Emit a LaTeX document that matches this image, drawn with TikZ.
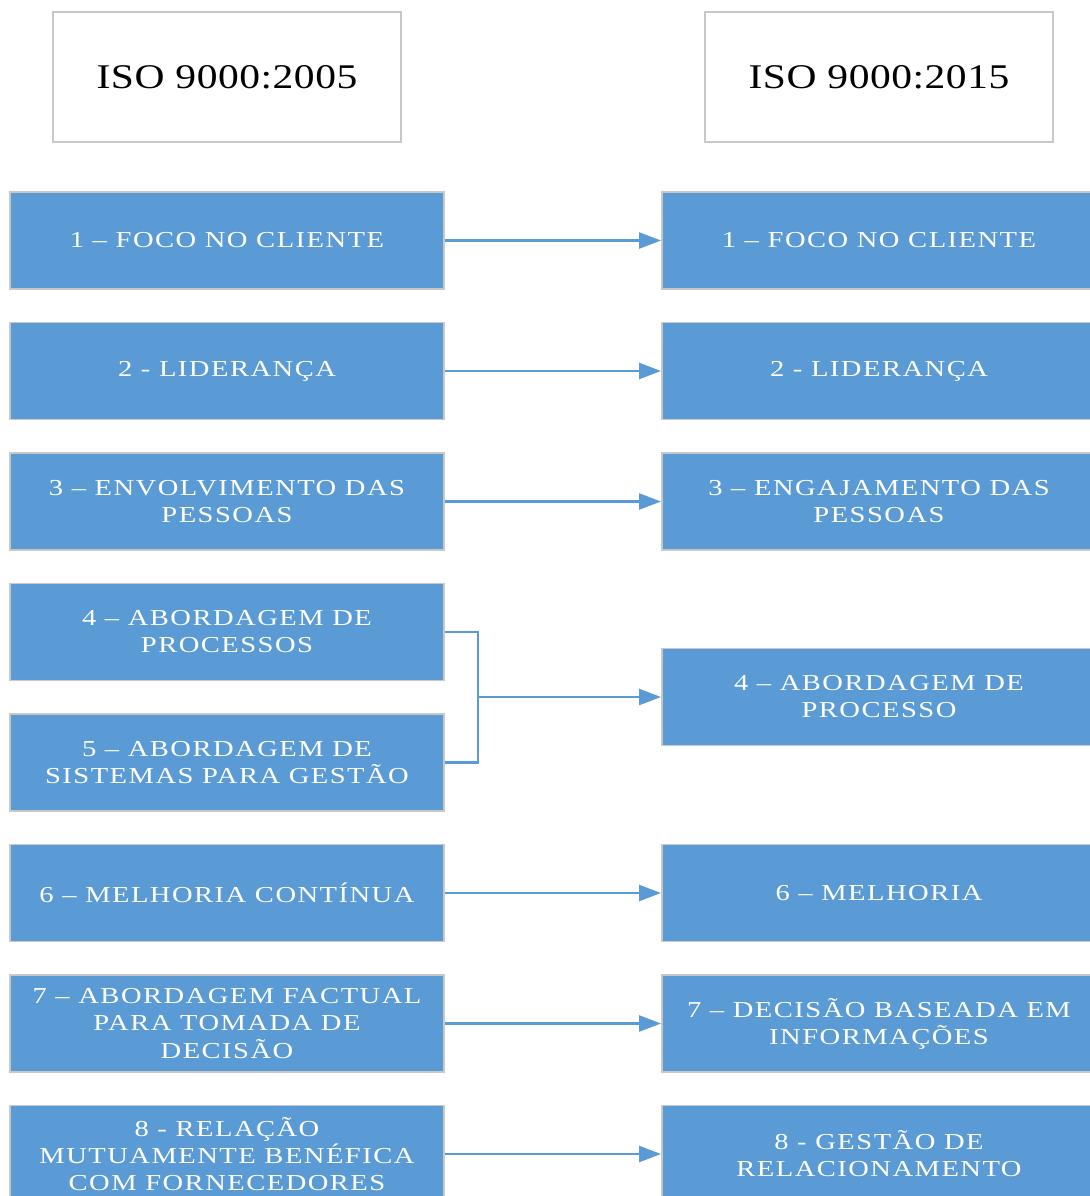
\documentclass[tikz,border=0pt]{standalone}
\usepackage{fontspec}
\usepackage{xcolor}
\usepackage{tikz}
\usetikzlibrary{arrows.meta}
\setmainfont{Liberation Serif}
\newfontfamily\headfont{Liberation Serif}[FakeStretch=1.2,LetterSpace=1.5]
\newfontfamily\boxfont{Liberation Serif}[FakeStretch=1.25,LetterSpace=6.5]
\definecolor{boxblue}{HTML}{5B9BD5}
\definecolor{boxgray}{HTML}{C8C8C8}

\begin{document}
\begin{tikzpicture}[
  isobox/.style={draw=boxgray, line width=1.1pt, fill=white, minimum width=6.96cm, minimum height=2.6cm, font=\headfont\fontsize{19.7}{23}\selectfont},
  princ/.style={draw=boxgray, line width=1.1pt, fill=boxblue, text=white, minimum width=8.68cm, minimum height=1.94cm, align=center, font=\boxfont\fontsize{13}{15.4}\selectfont},
  seta/.style={draw=boxblue, line width=1.4pt, -{Triangle[length=0.44cm,width=0.32cm]}}
]
\useasboundingbox (0,0) rectangle (21.8,-23.92);
% colunas: esquerda 2005, direita 2015
\node[isobox] (iso05) at (4.54,-1.54) {ISO 9000:2005};
\node[isobox] (iso15) at (17.58,-1.54) {ISO 9000:2015};

\node[princ] (a1) at (4.54,-4.81) {1 – FOCO NO CLIENTE};
\node[princ] (b1) at (17.58,-4.81) {1 – FOCO NO CLIENTE};
\draw[seta] (a1) -- (b1);

\node[princ] (a2) at (4.54,-7.42) {2 - LIDERANÇA};
\node[princ] (b2) at (17.58,-7.42) {2 - LIDERANÇA};
\draw[seta] (a2) -- (b2);

\node[princ] (a3) at (4.54,-10.03) {3 – ENVOLVIMENTO DAS\\PESSOAS};
\node[princ] (b3) at (17.58,-10.03) {3 – ENGAJAMENTO DAS\\PESSOAS};
\draw[seta] (a3) -- (b3);

\node[princ] (a4) at (4.54,-12.64) {4 – ABORDAGEM DE\\PROCESSOS};
\node[princ] (a5) at (4.54,-15.25) {5 – ABORDAGEM DE\\SISTEMAS PARA GESTÃO};
\node[princ] (b4) at (17.58,-13.94) {4 – ABORDAGEM DE\\PROCESSO};
% chave que junta 4 e 5
\coordinate (c45) at (9.56,-13.94);
\draw[draw=boxblue, line width=1.4pt] (a4.east) -| (c45) |- (a5.east);
\draw[seta] (c45) -- (b4);

\node[princ] (a6) at (4.54,-17.86) {6 – MELHORIA CONTÍNUA};
\node[princ] (b6) at (17.58,-17.86) {6 – MELHORIA};
\draw[seta] (a6) -- (b6);

\node[princ] (a7) at (4.54,-20.47) {7 – ABORDAGEM FACTUAL\\PARA TOMADA DE\\DECISÃO};
\node[princ] (b7) at (17.58,-20.47) {7 – DECISÃO BASEADA EM\\INFORMAÇÕES};
\draw[seta] (a7) -- (b7);

\node[princ] (a8) at (4.54,-23.08) {8 - RELAÇÃO\\MUTUAMENTE BENÉFICA\\COM FORNECEDORES};
\node[princ] (b8) at (17.58,-23.08) {8 - GESTÃO DE\\RELACIONAMENTO};
\draw[seta] (a8) -- (b8);
\end{tikzpicture}
\end{document}
